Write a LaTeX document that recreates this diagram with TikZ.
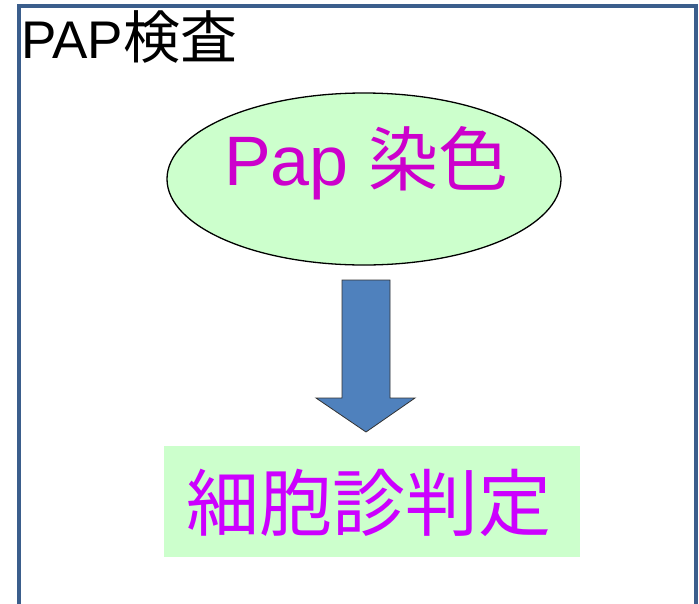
\documentclass[tikz,border=0pt]{standalone}
\usepackage{fontspec}
\setmainfont{Liberation Sans}
\newfontfamily\cjk{Noto Sans CJK JP}
\usetikzlibrary{shapes.geometric}
\definecolor{framecol}{RGB}{59,94,140}
\definecolor{palegreen}{RGB}{204,255,204}
\definecolor{magA}{RGB}{204,0,204}
\definecolor{magB}{RGB}{204,0,255}
\definecolor{arrowblue}{RGB}{79,129,189}
\tikzset{
  frameline/.style={draw=framecol, line width=4pt},
  stainbox/.style={ellipse, draw=black, line width=1.3pt, fill=palegreen, minimum width=394pt, minimum height=172pt, inner sep=0pt},
  judgebox/.style={rectangle, fill=palegreen, minimum width=416pt, minimum height=111pt, inner sep=0pt},
  blockarrow/.style={fill=arrowblue, draw=black!80, line width=0.8pt, line join=miter}
}
\begin{document}
\begin{tikzpicture}[x=1pt,y=-1pt]
\useasboundingbox (0,0) rectangle (699,603);
\clip (0,0) rectangle (699,603);
\fill[white] (0,0) rectangle (699,603);
\draw[frameline] (19,640) -- (19,6) -- (696,6) -- (696,640);
\node[anchor=base west, inner sep=0pt, font=\fontsize{53}{60}\selectfont] (title) at (21,58) {PAP{\cjk\fontsize{57}{60}\selectfont 検査}};
\node[stainbox] (stain) at (364,179) {};
\node[anchor=base, inner sep=0pt, text=magA, font=\fontsize{70}{80}\selectfont] (staintext) at (366,185) {Pap {\cjk 染色}};
\node[judgebox] (judge) at (372,501.5) {};
\node[inner sep=0pt, text=magB, font=\cjk\fontsize{73}{80}\selectfont] (judgetext) at (369,503) {細胞診判定};
\filldraw[blockarrow] (342,280) -- (390,280) -- (390,398) -- (415,398) -- (366,432) -- (316,398) -- (342,398) -- cycle;
\end{tikzpicture}
\end{document}
